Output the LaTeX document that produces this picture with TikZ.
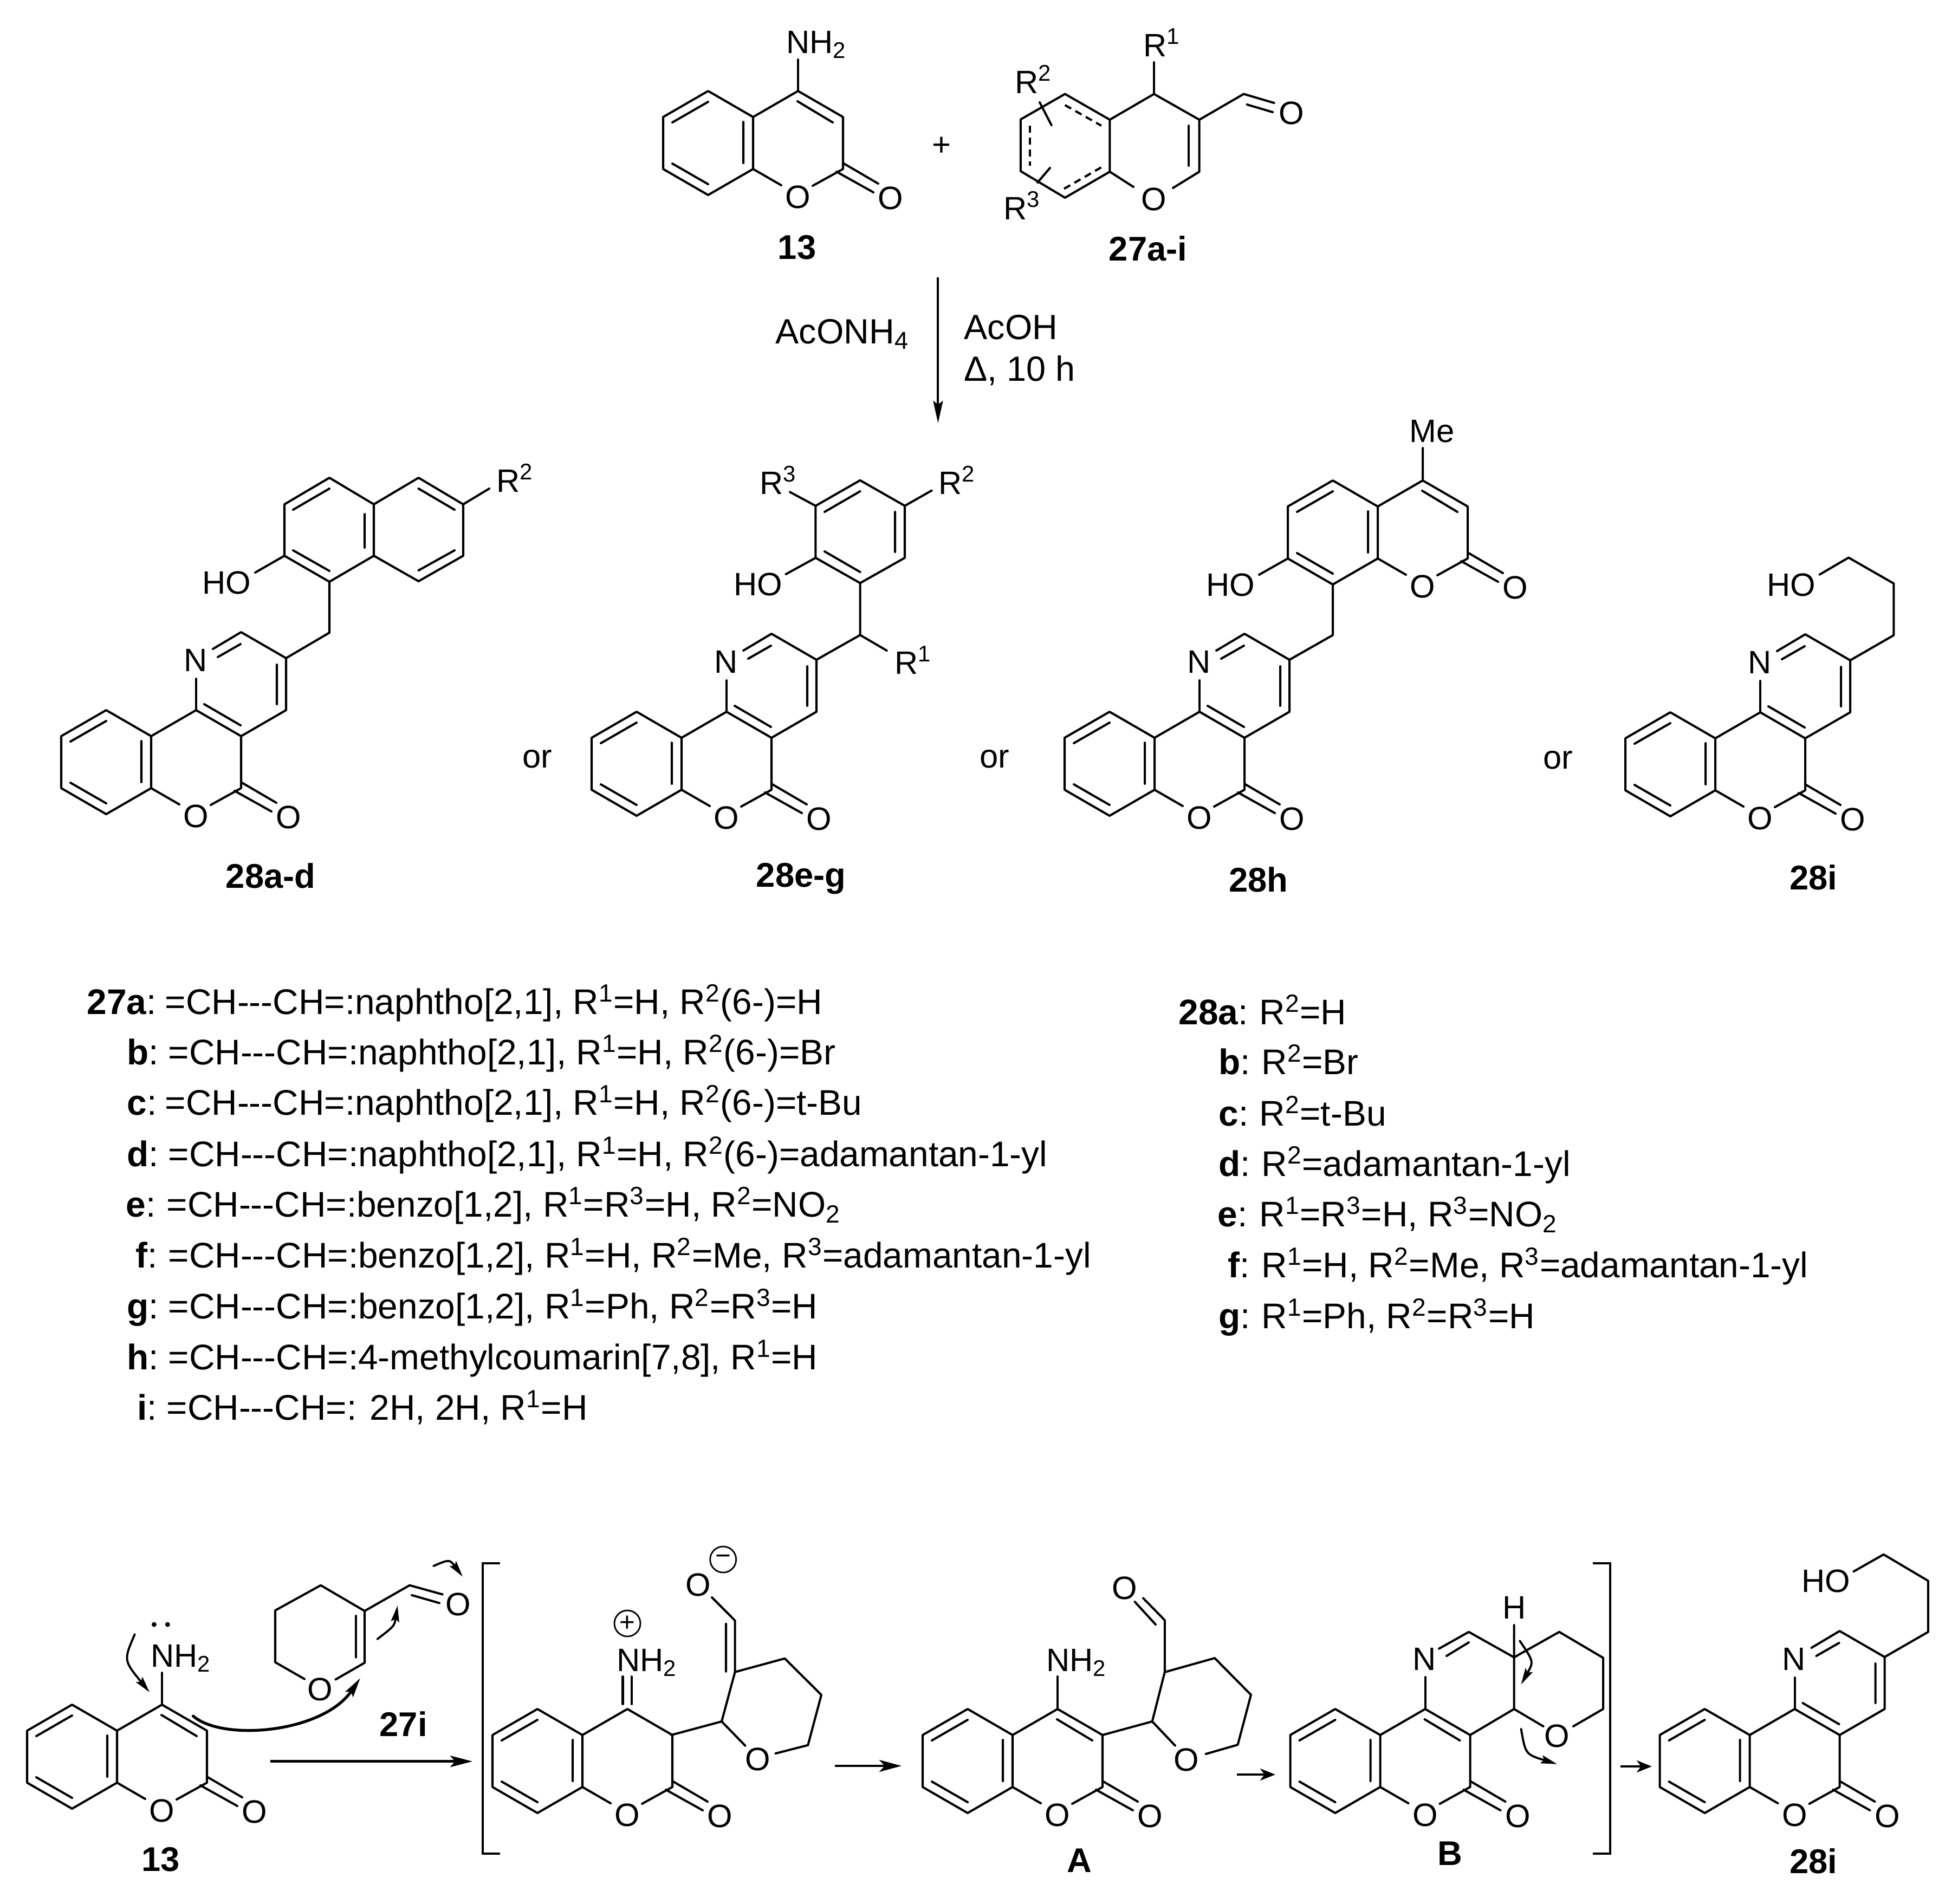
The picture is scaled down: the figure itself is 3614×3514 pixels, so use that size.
\documentclass[tikz,border=0pt]{standalone}
\usepackage{fontspec}
\setmainfont{Liberation Sans}
\usetikzlibrary{arrows.meta}
\newdimen\pxu \pxu=.01cm
\newcounter{lb}
\tikzset{
  bond/.style={line width=1.15pt,line cap=round,line join=round,black},
  dbond/.style={bond,dash pattern=on .13cm off .09cm,line cap=butt},
  atom/.style={inner sep=0pt,outer sep=0pt,font=\fontsize{17}{20}\selectfont},
  baselab/.style={atom,anchor=base west},
  boldlab/.style={inner sep=0pt,font=\fontsize{18}{20}\selectfont\bfseries},
  condlab/.style={inner sep=0pt,anchor=base west,font=\fontsize{18.4}{20}\selectfont},
  orlab/.style={inner sep=0pt,font=\fontsize{17.5}{20}\selectfont},
  listlab/.style={inner sep=0pt,anchor=base west,font=\fontsize{18.7}{20}\selectfont},
  chg/.style={circle,draw,line width=.8pt,minimum size=.48cm,inner sep=0pt,font=\fontsize{14}{14}\selectfont},
  bigarrow/.style={line width=1.3pt,-{Stealth[length=.41cm,width=.21cm,inset=.09cm]}},
  thinarrow/.style={line width=1.1pt,-{Stealth[length=.41cm,width=.18cm,inset=.07cm]}},
  smallarrow/.style={line width=1.3pt,-{Stealth[length=.28cm,width=.22cm,inset=.08cm]}},
  curly/.style={line width=1.1pt,line cap=round,-{Stealth[length=.3cm,width=.15cm,inset=.05cm]}},
  curlythick/.style={line width=1.5pt,line cap=round,-{Stealth[length=.36cm,width=.17cm,inset=.06cm]}},
  bracket/.style={line width=1.15pt,line join=miter}
}
\newcommand\atm[3]{\stepcounter{lb}\node[atom] (a\arabic{lb}) at (#1,#2) {#3};}
\newcommand\bas[3]{\stepcounter{lb}\node[baselab] (a\arabic{lb}) at (#1,#2) {#3};}
\newcommand\bld[3]{\stepcounter{lb}\node[boldlab] (a\arabic{lb}) at (#1,#2) {#3};}
\newcommand\orl[2]{\stepcounter{lb}\node[orlab] (a\arabic{lb}) at (#1,#2) {or};}
\newcommand\lst[6]{\stepcounter{lb}\node[listlab] (a\arabic{lb}) at (#1,#2) {\makebox[#4\pxu][l]{\textbf{#3}:}#6};}
% coumarin skeleton, anchored at top atom of the benzo ring
\newcommand\coumbase[2]{%
 \begin{scope}[shift={(#1,#2)}]
  \draw[bond] (0,0)--(-83,48)--(-83,144)--(0,192)--(83,144)--(83,48)--cycle;
  \draw[bond] (83,48)--(166,0)--(249,48)--(249,144)--(193,175);
  \draw[bond] (83,144)--(135,174);
  \draw[bond] (0,20)--(-66,58) (-66,134)--(0,172) (65,57)--(65,133);
  \draw[bond] (249,133)--(314,171) (237,149)--(305,187);
  \atm{166}{196}{O}\atm{337}{198}{O}
 \end{scope}}
\newcommand\coum[2]{\coumbase{#1}{#2}%
 \begin{scope}[shift={(#1,#2)}]\draw[bond] (165,19)--(230,58);\end{scope}}
% tricyclic chromeno-pyridinone
\newcommand\tric[2]{\coumbase{#1}{#2}%
 \begin{scope}[shift={(#1,#2)}]
  \draw[bond] (181,-11)--(248,28);
  \draw[bond] (166,0)--(166,-58);
  \draw[bond] (249,48)--(332,0)--(332,-96)--(249,-144)--(197,-113);
  \draw[bond] (248,-122)--(206,-98) (315,-11)--(315,-84);
  \atm{165}{-92}{N}
 \end{scope}}
\begin{document}
\begin{tikzpicture}[x=.01cm,y=-.01cm]
\useasboundingbox (0,0) rectangle (3614,3514);
\fill[white] (0,0) rectangle (3614,3514);
% ---------- top reactants
\coum{1307}{168}
\draw[bond] (1473,168)--(1473,110);
\bas{1451}{98}{NH\textsubscript{2}}
\stepcounter{lb}\node[atom] (plus) at (1738,270) {+};
\bld{1471}{457}{13}
\bld{2119}{459}{27a-i}
% 27a-i
\draw[bond] (1965.7,173.5)--(2048.4,221)--(2130,173.5)--(2213.7,221)--(2213.7,317)--(2165,347);
\draw[bond] (2130,173.5)--(2130,115);
\draw[bond] (2048.4,221)--(2048.4,317)--(2092,345);
\draw[bond] (2048.4,317)--(1965.7,365)--(1883.9,316)--(1883.9,220.4)--(1965.7,173.5);
\draw[bond] (2194,232)--(2194,306);
\draw[dbond] (1965.7,194)--(2032.8,232);
\draw[dbond] (1901,232)--(1901,306);
\draw[dbond] (1964,348.5)--(2035,307.6);
\draw[bond] (1919,189)--(1940.7,231);
\draw[bond] (1938,310)--(1915,337);
\draw[bond] (2213.7,221)--(2295.6,173.5)--(2351.6,190);
\draw[bond] (2301.6,193)--(2349,207);
\atm{2130}{368}{O}\atm{2384}{209}{O}
\bas{2110}{104}{R\textsuperscript{1}}
\bas{1873}{172}{R\textsuperscript{2}}
\bas{1852}{405}{R\textsuperscript{3}}
% conditions
\coordinate (arrS) at (1731.4,512);
\coordinate (arrE) at (1731.4,781);
\draw[thinarrow] (arrS)--(arrE);
\stepcounter{lb}\node[condlab] (c1) at (1431,634) {AcONH\textsubscript{4}};
\stepcounter{lb}\node[condlab] (c2) at (1779,626) {AcOH};
\stepcounter{lb}\node[condlab] (c3) at (1779,703) {Δ, 10 h};
% ---------- 28a-d
\tric{196}{1311}
\draw[bond] (528,1215)--(608,1168)--(608,1074);
\draw[bond] (608,1074)--(525,1026)--(525,931)--(608,882)--(690,931)--(690,1026)--cycle;
\draw[bond] (690,931)--(772.5,882)--(855,931)--(855,1026)--(772.5,1073)--(690,1026);
\draw[bond] (608,1054)--(541,1016) (541,941)--(608,902) (673,949)--(673,1011);
\draw[bond] (772.5,902)--(839,941) (839,1016)--(772.5,1053);
\draw[bond] (525,1026)--(471,1057) (855,931)--(903,902);
\atm{418.5}{1076}{HO}
\bas{916}{908}{R\textsuperscript{2}}
\bld{499.5}{1617}{28a-d}
\orl{992}{1401}
% ---------- 28e-g
\tric{1175}{1314}
\draw[bond] (1507,1218)--(1587.6,1172.3)--(1587.6,1076.4);
\draw[bond] (1587.6,1172.3)--(1636.7,1201);
\draw[bond] (1587.6,1076.4)--(1505.4,1029.8)--(1505.4,933.8)--(1587.6,886.7)--(1670,933.8)--(1670,1029.8)--cycle;
\draw[bond] (1587.6,1056)--(1522,1018) (1522,945)--(1587.6,907) (1652,945)--(1652,1019);
\draw[bond] (1505.4,1029.8)--(1450.5,1060) (1505.4,933.8)--(1458,908.3) (1670,933.8)--(1719.6,905.6);
\atm{1399}{1079}{HO}
\bas{1402}{912}{R\textsuperscript{3}}
\bas{1732}{912}{R\textsuperscript{2}}
\bas{1651}{1244}{R\textsuperscript{1}}
\bld{1478.5}{1622}{28e-g}
\orl{1836}{1401}
% ---------- 28h
\tric{2048}{1314}
\draw[bond] (2380,1218)--(2460,1172.5)--(2460,1079);
\coum{2460}{887}
\draw[bond] (2377,1031)--(2324,1061) (2626,887)--(2626,827);
\atm{2271.5}{1080}{HO}
\bas{2601.5}{816}{Me}
\bld{2323}{1624}{28h}
\orl{2876}{1403}
% ---------- 28i
\tric{3083}{1315}
\draw[bond] (3415,1219)--(3495.4,1172.7)--(3495.4,1077.2)--(3412,1029.4)--(3358.7,1060.6);
\atm{3306}{1080}{HO}
\bld{3347}{1620}{28i}
% ---------- lists
\lst{160}{1872}{27a}{144}{}{=CH-{}-{}-CH=:naphtho[2,1], R\textsuperscript{1}=H, R\textsuperscript{2}(6-)=H}
\lst{234}{1965}{b}{76}{}{=CH-{}-{}-CH=:naphtho[2,1], R\textsuperscript{1}=H, R\textsuperscript{2}(6-)=Br}
\lst{234}{2058}{c}{70}{}{=CH-{}-{}-CH=:naphtho[2,1], R\textsuperscript{1}=H, R\textsuperscript{2}(6-)=t-Bu}
\lst{234}{2153}{d}{76}{}{=CH-{}-{}-CH=:naphtho[2,1], R\textsuperscript{1}=H, R\textsuperscript{2}(6-)=adamantan-1-yl}
\lst{232}{2246}{e}{75}{}{=CH-{}-{}-CH=:benzo[1,2], R\textsuperscript{1}=R\textsuperscript{3}=H, R\textsuperscript{2}=NO\textsubscript{2}}
\lst{250}{2340}{f}{60}{}{=CH-{}-{}-CH=:benzo[1,2], R\textsuperscript{1}=H, R\textsuperscript{2}=Me, R\textsuperscript{3}=adamantan-1-yl}
\lst{234}{2434}{g}{76}{}{=CH-{}-{}-CH=:benzo[1,2], R\textsuperscript{1}=Ph, R\textsuperscript{2}=R\textsuperscript{3}=H}
\lst{234}{2528}{h}{76}{}{=CH-{}-{}-CH=:4-methylcoumarin[7,8], R\textsuperscript{1}=H}
\lst{253}{2621}{i}{54}{}{=CH-{}-{}-CH=: 2H, 2H, R\textsuperscript{1}=H}
\lst{2175}{1891}{28a}{149}{}{R\textsuperscript{2}=H}
\lst{2249}{1983}{b}{79}{}{R\textsuperscript{2}=Br}
\lst{2249}{2078}{c}{75}{}{R\textsuperscript{2}=t-Bu}
\lst{2249}{2171}{d}{79}{}{R\textsuperscript{2}=adamantan-1-yl}
\lst{2247}{2264}{e}{77}{}{R\textsuperscript{1}=R\textsuperscript{3}=H, R\textsuperscript{3}=NO\textsubscript{2}}
\lst{2266}{2358}{f}{62}{}{R\textsuperscript{1}=H, R\textsuperscript{2}=Me, R\textsuperscript{3}=adamantan-1-yl}
\lst{2249}{2452}{g}{79}{}{R\textsuperscript{1}=Ph, R\textsuperscript{2}=R\textsuperscript{3}=H}
% ---------- mechanism: 13
\coum{133}{3147}
\draw[bond] (299,3147)--(299,3088);
\bas{278}{3077}{NH\textsubscript{2}}
\fill (284.4,2999) circle (.045cm) (309.3,2999) circle (.045cm);
\bld{297}{3433}{13}
\draw[curly] (248.8,3017) .. controls (228,3065) .. (276,3124);
\draw[curlythick] (356.6,3168) .. controls (410,3215) and (595,3200) .. (665,3098);
% 27i
\draw[bond] (562,3099.6)--(508,3068.7)--(508,2973)--(592,2926.6)--(673,2974)--(673,3069.6)--(619.4,3100.5);
\draw[bond] (656.7,2983)--(656.7,3059.6);
\draw[bond] (673,2974)--(756,2926.6)--(816.8,2943.4) (760,2944.8)--(811,2959.4);
\atm{590.4}{3119}{O}\atm{846}{2961.7}{O}
\bld{744.6}{3182.5}{27i}
\draw[curly] (696.5,3026) .. controls (728,3001.7) .. (733.8,2964);
\draw[curly] (800,2891) .. controls (829.7,2878.4) .. (854,2910.6);
\draw[bigarrow] (499,3251.7)--(872,3251.7);
\draw[bracket] (923,2885.6)--(891,2885.6)--(891,3421.6)--(923,3421.6);
% iminium intermediate
\coumbase{992}{3155}
\draw[bond] (1149.5,3146)--(1149.5,3095) (1166,3146)--(1166,3095);
\bas{1138}{3085}{NH\textsubscript{2}}
\stepcounter{lb}\node[chg] (plusch) at (1158,2997) {+};
\draw[bond] (1239,3203)--(1332,3178)--(1356.6,3086.7)--(1448.5,3061.7)--(1516,3129)--(1491.3,3221.7)--(1431.6,3237);
\draw[bond] (1332,3178)--(1375.5,3222.7);
\draw[bond] (1356.6,3086.7)--(1356.6,2991.7)--(1314,2949) (1340,2997.7)--(1340,3085.7);
\atm{1398.5}{3248}{O}\atm{1288.8}{2926}{O}
\stepcounter{lb}\node[chg] (minusch) at (1334.7,2879) {−};
\draw[smallarrow,-{Stealth[length=.41cm,width=.22cm,inset=.1cm]}] (1541,3260)--(1664,3260);
% A
\coum{1786}{3155}
\draw[bond] (1952,3155)--(1952,3095);
\bas{1931}{3085}{NH\textsubscript{2}}
\draw[bond] (2035,3203)--(2126.7,3178)--(2149.8,3086.9)--(2242,3061)--(2309,3128.8)--(2284.6,3221)--(2225.6,3238);
\draw[bond] (2126.7,3178)--(2169,3222.6);
\draw[bond] (2149.8,3086.9)--(2149.8,2991)--(2110,2950.3) (2133,2999)--(2094.5,2957);
\atm{2189.6}{3248.5}{O}\atm{2075.3}{2932}{O}
\bld{1992}{3435}{A}
\draw[smallarrow] (2283,3276)--(2354,3276);
% B
\coum{2464.5}{3155}
\draw[bond] (2630.5,3155)--(2630.5,3096);
\atm{2629}{3063}{N}
\draw[bond] (2713.5,3203)--(2794.6,3155)--(2794.6,3059.6)--(2711,3012.7)--(2656,3043.6) (2711,3032)--(2670,3057);
\draw[bond] (2794.6,3059.6)--(2878,3012.7)--(2959,3060.5)--(2959,3155)--(2903.8,3187);
\draw[bond] (2794.6,3155)--(2848.6,3187) (2794.6,3059.6)--(2794.6,3000);
\atm{2794.6}{2967.6}{H}\atm{2874}{3205}{O}
\draw[curly] (2805,3029) .. controls (2831,3067.6) .. (2807.5,3109.6);
\draw[curly] (2807.5,3191.6) .. controls (2815.7,3238.7) .. (2874,3256.7);
\bld{2676.4}{3421.6}{B}
\draw[bracket] (2940,2885.6)--(2972,2885.6)--(2972,3421.6)--(2940,3421.6);
\draw[smallarrow] (2991,3261)--(3049,3261);
% 28i (mechanism)
\tric{3146.5}{3155}
\draw[bond] (3478.5,3059)--(3558.9,3012.7)--(3558.9,2918.4)--(3476.7,2869.7)--(3421.5,2901);
\atm{3370}{2919}{HO}
\bld{3347}{3436}{28i}
\end{tikzpicture}
\end{document}
